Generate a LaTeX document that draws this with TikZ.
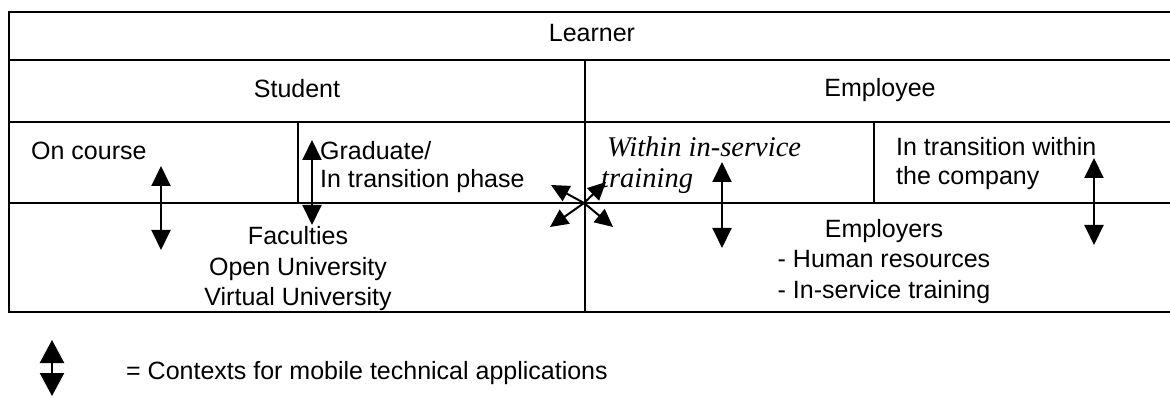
\documentclass[tikz,border=0pt]{standalone}
\usepackage{fontspec}
\setmainfont{Liberation Sans}
\newfontfamily\serifit{Liberation Serif}
\usetikzlibrary{arrows.meta}
\begin{document}
\begin{tikzpicture}[x=1pt,y=-1pt,
  grid/.style={line width=2.6pt, line cap=rect},
  txt/.style={inner sep=0pt, font=\fontsize{25}{30}\selectfont},
  ittxt/.style={inner sep=0pt, font=\fontsize{28.5}{30}\selectfont\serifit\itshape},
  ctx/.style={line width=2pt, {Triangle[width=19pt,length=20pt]}-{Triangle[width=19pt,length=20pt]}},
  ctxone/.style={line width=2pt, -{Triangle[width=17pt,length=18pt]}},
  legarrow/.style={line width=2.4pt, {Triangle[width=24pt,length=23pt]}-{Triangle[width=24pt,length=23pt]}}
]
\useasboundingbox (0,0) rectangle (1170,398);
% table grid
\draw[grid] (1170,12) -- (9,12) -- (9,312) -- (1170,312);
\draw[grid] (9,60) -- (1170,60);
\draw[grid] (9,122) -- (1170,122);
\draw[grid] (9,203) -- (1170,203);
\draw[grid] (585,60) -- (585,312);
\draw[grid] (298,122) -- (298,203);
\draw[grid] (874,122) -- (874,203);
% texts
\node[txt, anchor=base] (learner) at (592,42) {Learner};
\node[txt, anchor=base] (student) at (297,98) {Student};
\node[txt, anchor=base] (employee) at (880,97) {Employee};
\node[txt, anchor=base west] (oncourse) at (31,160) {On course};
\node[txt, anchor=base west] (grad1) at (320,160) {Graduate/};
\node[txt, anchor=base west] (grad2) at (320,188) {In transition phase};
\node[ittxt, anchor=base west] (within1) at (607,157) {Within in-service};
\node[ittxt, anchor=base west] (within2) at (601,188) {training};
\node[txt, anchor=base west] (trans1) at (896,156) {In transition within};
\node[txt, anchor=base west] (trans2) at (896,185) {the company};
\node[txt, anchor=base] (fac1) at (298,244) {Faculties};
\node[txt, anchor=base] (fac2) at (298,275) {Open University};
\node[txt, anchor=base] (fac3) at (298,305) {Virtual University};
\node[txt, anchor=base] (emp1) at (884,238) {Employers};
\node[txt, anchor=base] (emp2) at (884,268) {- Human resources};
\node[txt, anchor=base] (emp3) at (884,298) {- In-service training};
% context arrows
\coordinate (a1t) at (161,166); \coordinate (a1b) at (161,250);
\coordinate (a2t) at (312,140); \coordinate (a2b) at (312,225);
\coordinate (a3t) at (722,162); \coordinate (a3b) at (722,248);
\coordinate (a4t) at (1094,158); \coordinate (a4b) at (1094,245);
\draw[ctx] (a1t) -- (a1b);
\draw[ctx] (a2t) -- (a2b);
\draw[ctx] (a3t) -- (a3b);
\draw[ctx] (a4t) -- (a4b);
% crossing arrows
\coordinate (xc) at (584,203);
\coordinate (xnw) at (551,185);
\coordinate (xsw) at (550,227);
\coordinate (xne) at (606,182);
\coordinate (xse) at (613,227);
\draw[ctxone] (xc) -- (xnw);
\draw[ctxone] (xc) -- (xsw);
\draw[ctxone] (xc) -- (xne);
\draw[ctxone] (xc) -- (xse);
% legend
\coordinate (lt) at (52,340); \coordinate (lb) at (52,396);
\draw[legarrow] (lt) -- (lb);
\node[txt, anchor=base west] (legend) at (126,379) {= Contexts for mobile technical applications};
\end{tikzpicture}
\end{document}
